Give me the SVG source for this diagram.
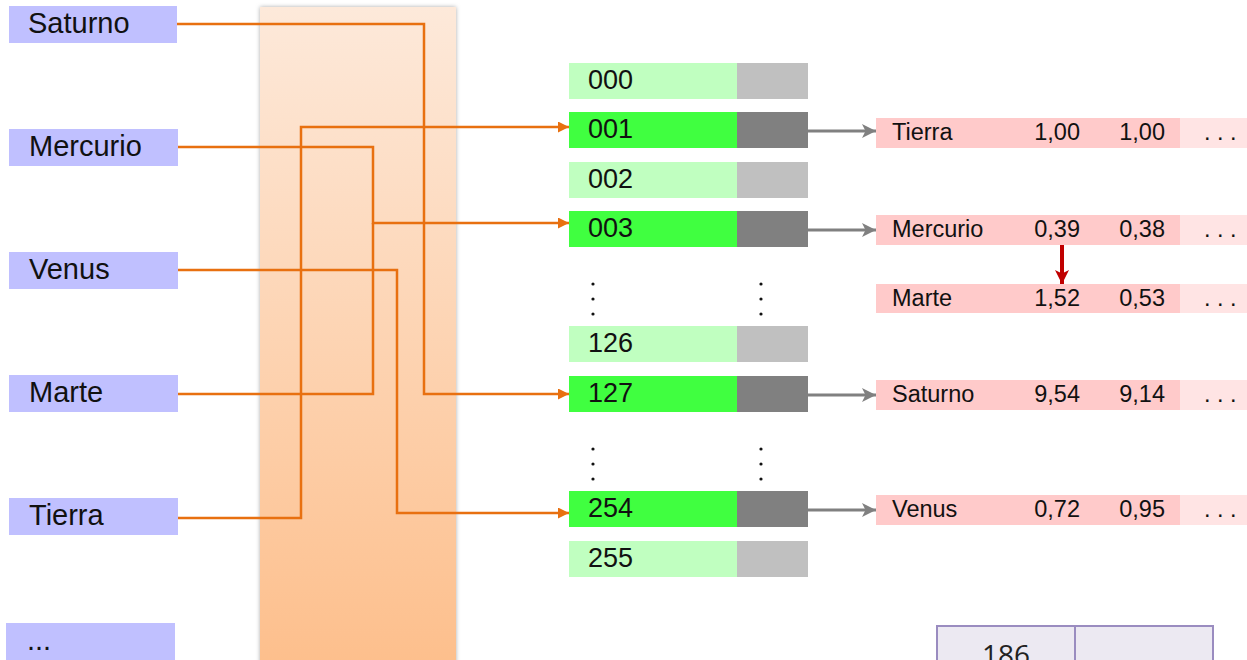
<svg xmlns="http://www.w3.org/2000/svg" width="1247" height="660" viewBox="0 0 1247 660">
<defs>
<linearGradient id="col" x1="0" y1="0" x2="0" y2="1">
<stop offset="0" stop-color="#fde9da"/>
<stop offset="1" stop-color="#fdbf8c"/>
</linearGradient>
<filter id="sh" x="-10%" y="-5%" width="120%" height="110%">
<feDropShadow dx="0" dy="0" stdDeviation="2" flood-color="#888" flood-opacity="0.7"/>
</filter>
<marker id="ao" viewBox="0 0 10 10" refX="10" refY="5" markerWidth="11" markerHeight="11" markerUnits="userSpaceOnUse" orient="auto">
<path d="M0,0 L10,5 L0,10 Z" fill="#e87010"/>
</marker>
<marker id="ag" viewBox="0 0 12 12" refX="12" refY="6" markerWidth="14" markerHeight="14" markerUnits="userSpaceOnUse" orient="auto">
<path d="M0,0 L12,6 L0,12 L3,6 Z" fill="#808080"/>
</marker>
<marker id="ar" viewBox="0 0 12 12" refX="12" refY="6" markerWidth="14" markerHeight="14" markerUnits="userSpaceOnUse" orient="auto">
<path d="M0,0 L12,6 L0,12 L3,6 Z" fill="#c00000"/>
</marker>
</defs>
<style>
.lbl{fill:#c0c0ff}
.lt{font-family:"Liberation Sans",Arial,sans-serif;font-size:29px;fill:#111}
.tt{font-family:"Liberation Sans",Arial,sans-serif;font-size:27px;fill:#111}
.pt{font-family:"Liberation Sans",Arial,sans-serif;font-size:23.5px;fill:#111}
.g1{fill:#c0ffc0}.g2{fill:#40ff40}.k1{fill:#c0c0c0}.k2{fill:#808080}
.p1{fill:#ffcaca}.p2{fill:#ffe4e4}
.ol{fill:none;stroke:#e87010;stroke-width:2.5}
.oc{fill:none;stroke:#e87010;stroke-width:2.5;marker-end:url(#ao)}
.gc{fill:none;stroke:#808080;stroke-width:3;marker-end:url(#ag)}
.rc{fill:none;stroke:#c00000;stroke-width:4;marker-end:url(#ar)}
.dot{fill:#111}
</style>
<rect width="1247" height="660" fill="#fff"/>
<rect x="260" y="7" width="196" height="660" fill="url(#col)" filter="url(#sh)"/>

<g id="key-saturno"><rect class="lbl" x="9" y="6" width="168" height="37"/><text class="lt" x="28" y="33">Saturno</text></g>
<g id="key-mercurio"><rect class="lbl" x="9" y="129" width="169" height="37"/><text class="lt" x="29" y="156">Mercurio</text></g>
<g id="key-venus"><rect class="lbl" x="9" y="252" width="169" height="37"/><text class="lt" x="29" y="279">Venus</text></g>
<g id="key-marte"><rect class="lbl" x="9" y="375" width="169" height="37"/><text class="lt" x="29" y="402">Marte</text></g>
<g id="key-tierra"><rect class="lbl" x="9" y="498" width="169" height="37"/><text class="lt" x="29" y="525">Tierra</text></g>
<g id="key-more"><rect class="lbl" x="6" y="623" width="169" height="40"/><text class="lt" x="27" y="650">...</text></g>

<g id="b000"><rect class="g1" x="569" y="63" width="168" height="36"/><rect class="k1" x="737" y="63" width="71" height="36"/><text class="tt" x="588" y="89">000</text></g>
<g id="b001"><rect class="g2" x="569" y="112" width="168" height="36"/><rect class="k2" x="737" y="112" width="71" height="36"/><text class="tt" x="588" y="138">001</text></g>
<g id="b002"><rect class="g1" x="569" y="162" width="168" height="36"/><rect class="k1" x="737" y="162" width="71" height="36"/><text class="tt" x="588" y="188">002</text></g>
<g id="b003"><rect class="g2" x="569" y="211" width="168" height="36"/><rect class="k2" x="737" y="211" width="71" height="36"/><text class="tt" x="588" y="237">003</text></g>
<g id="dots1"><circle class="dot" cx="593" cy="284" r="1.6"/><circle class="dot" cx="593" cy="299" r="1.6"/><circle class="dot" cx="593" cy="314" r="1.6"/><circle class="dot" cx="761" cy="284" r="1.6"/><circle class="dot" cx="761" cy="299" r="1.6"/><circle class="dot" cx="761" cy="314" r="1.6"/></g>
<g id="b126"><rect class="g1" x="569" y="326" width="168" height="36"/><rect class="k1" x="737" y="326" width="71" height="36"/><text class="tt" x="588" y="352">126</text></g>
<g id="b127"><rect class="g2" x="569" y="376" width="168" height="36"/><rect class="k2" x="737" y="376" width="71" height="36"/><text class="tt" x="588" y="402">127</text></g>
<g id="dots2"><circle class="dot" cx="593" cy="449" r="1.6"/><circle class="dot" cx="593" cy="464" r="1.6"/><circle class="dot" cx="593" cy="479" r="1.6"/><circle class="dot" cx="761" cy="449" r="1.6"/><circle class="dot" cx="761" cy="464" r="1.6"/><circle class="dot" cx="761" cy="479" r="1.6"/></g>
<g id="b254"><rect class="g2" x="569" y="491" width="168" height="36"/><rect class="k2" x="737" y="491" width="71" height="36"/><text class="tt" x="588" y="517">254</text></g>
<g id="b255"><rect class="g1" x="569" y="541" width="168" height="36"/><rect class="k1" x="737" y="541" width="71" height="36"/><text class="tt" x="588" y="567">255</text></g>

<g id="r-tierra"><rect class="p1" x="876" y="118" width="304" height="30"/><rect class="p2" x="1180" y="118" width="67" height="30"/><text class="pt" x="892" y="140">Tierra</text><text class="pt" x="1080" y="140" text-anchor="end">1,00</text><text class="pt" x="1165" y="140" text-anchor="end">1,00</text><text class="pt" x="1204" y="140">. . .</text></g>
<g id="r-mercurio"><rect class="p1" x="876" y="215" width="304" height="30"/><rect class="p2" x="1180" y="215" width="67" height="30"/><text class="pt" x="892" y="237">Mercurio</text><text class="pt" x="1080" y="237" text-anchor="end">0,39</text><text class="pt" x="1165" y="237" text-anchor="end">0,38</text><text class="pt" x="1204" y="237">. . .</text></g>
<g id="r-marte"><rect class="p1" x="876" y="284" width="304" height="29"/><rect class="p2" x="1180" y="284" width="67" height="29"/><text class="pt" x="892" y="306">Marte</text><text class="pt" x="1080" y="306" text-anchor="end">1,52</text><text class="pt" x="1165" y="306" text-anchor="end">0,53</text><text class="pt" x="1204" y="306">. . .</text></g>
<g id="r-saturno"><rect class="p1" x="876" y="380" width="304" height="30"/><rect class="p2" x="1180" y="380" width="67" height="30"/><text class="pt" x="892" y="402">Saturno</text><text class="pt" x="1080" y="402" text-anchor="end">9,54</text><text class="pt" x="1165" y="402" text-anchor="end">9,14</text><text class="pt" x="1204" y="402">. . .</text></g>
<g id="r-venus"><rect class="p1" x="876" y="495" width="304" height="30"/><rect class="p2" x="1180" y="495" width="67" height="30"/><text class="pt" x="892" y="517">Venus</text><text class="pt" x="1080" y="517" text-anchor="end">0,72</text><text class="pt" x="1165" y="517" text-anchor="end">0,95</text><text class="pt" x="1204" y="517">. . .</text></g>

<g id="cell186"><rect x="937" y="626" width="138" height="50" fill="#ece9f2" stroke="#9a8cc0" stroke-width="2"/><rect x="1075" y="626" width="138" height="50" fill="#ece9f2" stroke="#9a8cc0" stroke-width="2"/><text x="1006" y="665" text-anchor="middle" font-family="'Open Sans',sans-serif" font-size="28" fill="#222">186</text></g>

<g id="connectors">
<path class="oc" d="M177,24 H424 V394 H569"/>
<path class="oc" d="M178,147 H373 V223 H569"/>
<path class="ol" d="M178,394 H373 V223"/>
<path class="oc" d="M178,270 H397 V513 H569"/>
<path class="oc" d="M178,518 H301 V127 H569"/>
<path class="gc" d="M808,131 H876"/>
<path class="gc" d="M808,230 H876"/>
<path class="gc" d="M808,395 H876"/>
<path class="gc" d="M808,510 H876"/>
<path class="rc" d="M1062,245 V284"/>
</g>
</svg>
